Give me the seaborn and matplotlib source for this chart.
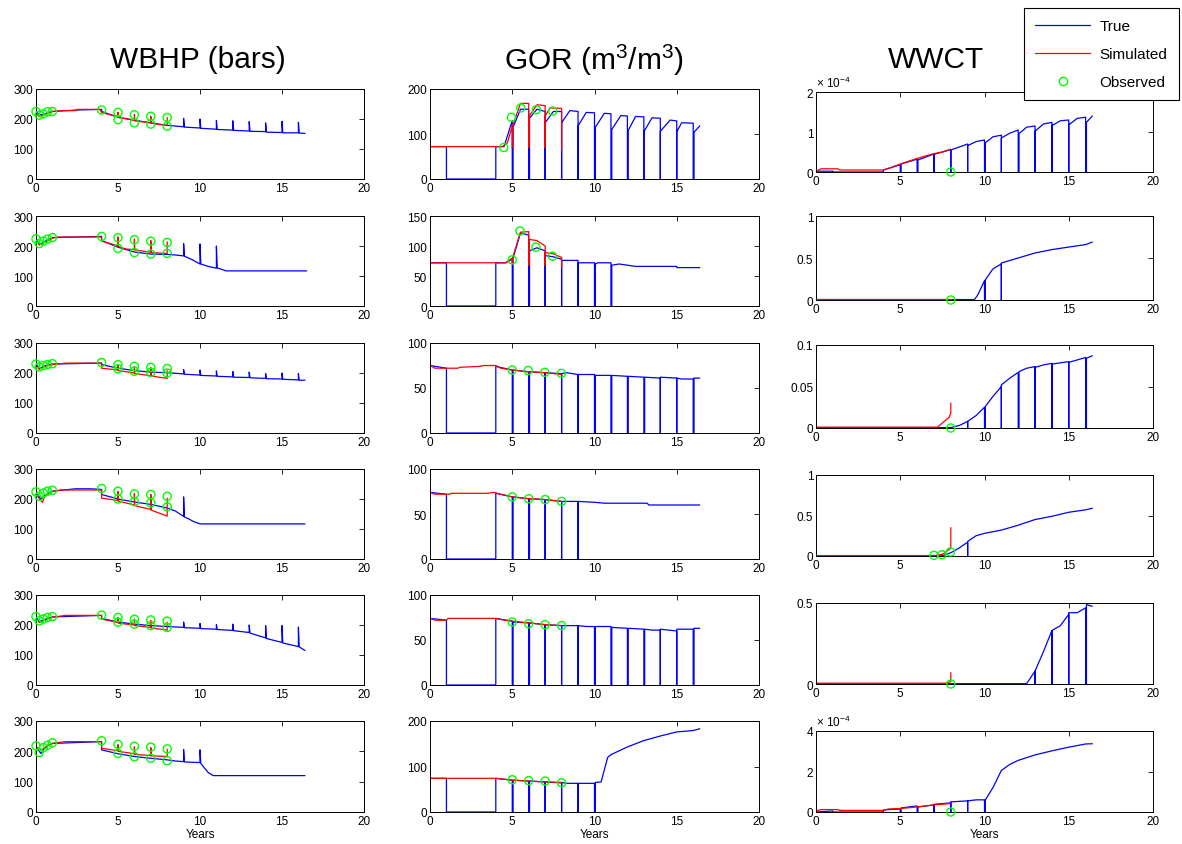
import matplotlib
matplotlib.use("Agg")
import matplotlib.pyplot as plt
from matplotlib.lines import Line2D
import seaborn as sns

# ---------------- data ----------------
x_ticks = [0, 5, 10, 15, 20]
x_ticklabels = ["0", "5", "10", "15", "20"]
titles = ["WBHP (bars)", "GOR (m$^3$/m$^3$)", "WWCT"]
legend_labels = ["True", "Simulated", "Observed"]

# ---- WBHP (bars) ----
wbhp_true_1 = [(0, 225), (0.2, 215), (0.45, 214), (0.7, 221), (1.0, 225), (2.5, 230), (4.0, 232), (4.0, 225),
               (5.0, 206), (6.0, 196), (7.0, 187), (8.0, 179), (9.0, 174), (9.0, 202), (9.05, 173), (10.0, 170),
               (10.0, 200), (10.05, 169), (11.0, 166), (11.0, 195), (11.05, 165), (12.0, 163), (12.0, 194),
               (12.05, 162), (13.0, 160), (13.0, 191), (13.05, 159), (14.0, 158), (14.0, 187), (14.05, 156),
               (15.0, 155), (15.0, 192), (15.05, 154), (16.0, 154), (16.0, 189), (16.05, 153), (16.4, 152)]
wbhp_sim_1 = [(0, 0), (0, 222), (0.2, 208), (0.45, 213), (0.7, 219), (1.0, 225), (1.5, 228), (2.5, 228), (2.5, 232),
              (3.9, 232), (4.0, 222), (5.0, 207), (5.0, 222), (5.02, 205), (6.0, 196), (6.0, 215), (6.02, 194),
              (7.0, 187), (7.0, 209), (7.02, 186), (8.0, 178), (8.0, 205)]
wbhp_obs_1 = [(0, 225), (0.2, 213), (0.45, 217), (0.7, 224), (1.0, 225), (4, 230), (5, 222), (5, 198), (6, 214),
              (6, 187), (7, 209), (7, 183), (8, 205), (8, 176)]

wbhp_true_2 = [(0, 225), (0.2, 205), (0.45, 212), (0.7, 220), (1.0, 228), (4.0, 232), (4.0, 218), (5.0, 196),
               (6.0, 180), (7.0, 173), (8.0, 172), (8.5, 170), (9.0, 167), (9.0, 208), (9.05, 166), (9.5, 155),
               (10.0, 140), (10.0, 207), (10.05, 140), (10.5, 132), (11.0, 126), (11.0, 200), (11.05, 127),
               (11.6, 117), (16.5, 117)]
wbhp_sim_2 = [(0, 0), (0, 222), (0.2, 203), (0.45, 210), (0.7, 218), (1.0, 226), (1.3, 230), (4.0, 230), (4.0, 217),
              (5.0, 200), (5.0, 230), (5.02, 198), (5.5, 190), (6.0, 188), (6.0, 223), (6.02, 187), (7.0, 179),
              (7.0, 218), (7.02, 178), (8.0, 175), (8.0, 214)]
wbhp_obs_2 = [(0, 224), (0.2, 208), (0.45, 216), (0.7, 223), (1.0, 228), (4, 232), (5, 228), (5, 192), (6, 221),
              (6, 178), (7, 216), (7, 173), (8, 212), (8, 175)]

wbhp_true_3 = [(0, 230), (0.2, 215), (0.45, 222), (0.7, 227), (1.0, 230), (4.0, 233), (4.0, 228), (5.0, 216),
               (6.0, 208), (7.0, 203), (8.0, 201), (9.0, 197), (9.0, 211), (9.05, 196), (10.0, 193), (10.0, 210),
               (10.05, 192), (11.0, 190), (11.0, 207), (11.05, 189), (12.0, 187), (12.0, 205), (12.05, 186),
               (13.0, 185), (13.0, 203), (13.05, 184), (14.0, 182), (14.0, 198), (14.05, 181), (15.0, 180),
               (15.0, 200), (15.05, 179), (16.0, 177), (16.0, 198), (16.05, 176), (16.4, 176)]
wbhp_sim_3 = [(0, 0), (0, 226), (0.2, 212), (0.45, 220), (0.7, 225), (1.0, 228), (1.8, 233), (4.0, 233), (4.0, 216),
              (5.0, 210), (5.0, 228), (5.02, 208), (6.0, 200), (6.0, 222), (6.02, 198), (7.0, 191), (7.0, 218),
              (7.02, 190), (8.0, 182), (8.0, 208)]
wbhp_obs_3 = [(0, 230), (0.2, 220), (0.45, 225), (0.7, 228), (1.0, 231), (4, 235), (5, 228), (5, 214), (6, 222),
              (6, 206), (7, 219), (7, 202), (8, 215), (8, 200)]

wbhp_true_4 = [(0, 220), (0.3, 200), (0.5, 210), (0.7, 218), (1.0, 226), (2.4, 234), (3.3, 234), (4.0, 232),
               (4.0, 215), (5.0, 200), (6.0, 190), (7.0, 182), (8.0, 170), (8.5, 160), (9.0, 142), (9.0, 207),
               (9.05, 140), (9.3, 134), (9.6, 125), (10.0, 117), (16.4, 117)]
wbhp_sim_4 = [(0, 0), (0, 215), (0.3, 195), (0.4, 189), (0.5, 205), (0.7, 215), (1.0, 225), (1.5, 230), (4.0, 230),
              (4.0, 203), (5.0, 195), (5.0, 225), (5.02, 193), (6.0, 180), (6.0, 218), (6.02, 178), (7.0, 165),
              (7.0, 215), (7.02, 163), (8.0, 143), (8.0, 203)]
wbhp_obs_4 = [(0, 224), (0.2, 209), (0.45, 220), (0.7, 226), (1.0, 229), (4, 235), (5, 226), (5, 200), (6, 217),
              (6, 191), (7, 215), (7, 187), (8, 209), (8, 174)]

wbhp_true_5 = [(0, 226), (0.2, 212), (0.45, 216), (0.7, 222), (1.0, 227), (4.0, 232), (4.0, 222), (5.0, 210),
               (6.0, 203), (7.0, 198), (8.0, 195), (9.0, 192), (9.0, 210), (9.05, 191), (10.0, 189), (10.0, 205),
               (10.05, 188), (11.0, 186), (11.0, 201), (11.05, 185), (12.0, 182), (12.0, 203), (12.05, 181),
               (13.0, 175), (13.0, 200), (13.05, 173), (14.0, 157), (14.0, 198), (14.05, 155), (15.0, 142),
               (15.0, 198), (15.05, 140), (16.0, 128), (16.0, 193), (16.05, 127), (16.4, 115)]
wbhp_sim_5 = [(0, 0), (0, 222), (0.2, 208), (0.45, 214), (0.7, 220), (1.0, 226), (1.8, 232), (4.0, 232), (4.0, 220),
              (5.0, 208), (5.0, 225), (5.02, 206), (6.0, 200), (6.0, 220), (6.02, 198), (7.0, 192), (7.0, 215),
              (7.02, 190), (8.0, 183), (8.0, 210)]
wbhp_obs_5 = [(0, 228), (0.2, 214), (0.45, 220), (0.7, 225), (1.0, 228), (4, 233), (5, 225), (5, 209), (6, 219),
              (6, 203), (7, 217), (7, 198), (8, 213), (8, 192)]

wbhp_true_6 = [(0, 215), (0.3, 193), (0.5, 208), (0.7, 218), (1.0, 226), (4.0, 232), (4.0, 205), (5.0, 192),
               (6.0, 183), (7.0, 177), (8.0, 172), (8.5, 168), (9.0, 166), (9.0, 206), (9.05, 165), (10.0, 163),
               (10.0, 205), (10.05, 160), (10.5, 130), (10.8, 120), (16.4, 120)]
wbhp_sim_6 = [(0, 0), (0, 215), (0.3, 205), (0.5, 210), (0.7, 220), (1.0, 226), (1.8, 232), (4.0, 232), (4.0, 210),
              (5.0, 202), (5.0, 222), (5.02, 200), (6.0, 192), (6.0, 215), (6.02, 190), (7.0, 186), (7.0, 212),
              (7.02, 185), (8.0, 183), (8.0, 207)]
wbhp_obs_6 = [(0, 218), (0.2, 196), (0.45, 212), (0.7, 220), (1.0, 228), (4, 235), (5, 223), (5, 193), (6, 217),
              (6, 182), (7, 214), (7, 177), (8, 208), (8, 169)]

# ---- GOR (m3/m3) ----
gor_true_1 = [(0, 72), (1.0, 72), (1.0, 0), (4.0, 0), (4.0, 72), (4.5, 72), (5.0, 130), (5.0, 0), (5.05, 0),
              (5.05, 115), (5.5, 155), (6.0, 155), (6.0, 0), (6.05, 0), (6.05, 135), (6.5, 155), (7.0, 150), (7.0, 0),
              (7.0, 125), (7.5, 150), (8.0, 150), (8.0, 0), (8.0, 125), (8.5, 152), (9.0, 150), (9.0, 0), (9.0, 118),
              (9.5, 148), (10.0, 147), (10.0, 0), (10.05, 0), (10.05, 115), (10.6, 146), (11.0, 145), (11.0, 0),
              (11.05, 0), (11.05, 110), (11.6, 141), (12.0, 140), (12.0, 0), (12.05, 0), (12.05, 108), (12.5, 139),
              (13.0, 138), (13.0, 0), (13.0, 105), (13.5, 136), (14.0, 135), (14.0, 0), (14.0, 106), (14.6, 131),
              (15.0, 129), (15.0, 0), (15.0, 105), (15.3, 125), (16.0, 124), (16.0, 0), (16.05, 0), (16.05, 104),
              (16.4, 118)]
gor_sim_1 = [(0, 0), (0, 72), (4.4, 72), (4.7, 80), (5.0, 118), (5.0, 70), (5.04, 70), (5.04, 120), (5.5, 168),
             (6.0, 168), (6.0, 70), (6.04, 70), (6.04, 140), (6.5, 165), (7.0, 163), (7.0, 70), (7.0, 140), (7.3, 158),
             (8.0, 157), (8.0, 65)]
gor_obs_1 = [(4.48, 70), (4.95, 137), (5.52, 158), (6.47, 154), (7.46, 151)]

gor_true_2 = [(0, 72), (1.0, 72), (1.0, 0), (4.0, 0), (4.0, 72), (4.6, 72), (5.0, 78), (5.0, 0), (5.05, 0),
              (5.05, 80), (5.5, 122), (6.0, 118), (6.0, 0), (6.05, 0), (6.05, 92), (6.5, 97), (7.0, 92), (7.0, 0),
              (7.0, 84), (7.5, 82), (8.0, 78), (8.0, 0), (8.0, 76), (9.0, 76), (9.0, 0), (9.0, 72), (10.0, 72),
              (10.0, 0), (10.05, 0), (10.05, 70), (10.2, 72), (11.0, 72), (11.0, 0), (11.05, 0), (11.05, 68),
              (11.5, 70), (12.0, 68), (12.5, 66), (15.0, 66), (15.0, 64), (16.4, 64)]
gor_sim_2 = [(0, 0), (0, 72), (4.6, 72), (5.0, 80), (5.0, 70), (5.04, 70), (5.04, 82), (5.5, 123), (6.0, 124),
             (6.0, 68), (6.04, 68), (6.04, 111), (6.5, 109), (7.0, 100), (7.0, 68), (7.0, 89), (7.5, 87), (8.0, 81),
             (8.0, 65)]
gor_obs_2 = [(5.0, 77), (5.47, 125), (6.44, 98), (7.45, 83)]

gor_true_3 = [(0, 75), (1.0, 72), (1.0, 0), (4.0, 0), (4.0, 74), (5.0, 70), (5.0, 0), (5.05, 0), (5.05, 70),
              (6.0, 68), (6.0, 0), (6.05, 0), (6.05, 68), (7.0, 67), (7.0, 0), (7.0, 67), (8.0, 66), (8.0, 0),
              (8.0, 66), (8.3, 67), (9.0, 65), (9.0, 0), (9.0, 65), (10.0, 65), (10.0, 0), (10.05, 0), (10.05, 64),
              (11.0, 64), (11.0, 0), (11.05, 0), (11.05, 64), (12.0, 63), (12.0, 0), (12.05, 0), (12.05, 63),
              (13.0, 62), (13.0, 0), (13.05, 0), (13.05, 62), (14.0, 61), (14.0, 0), (14.0, 62), (15.0, 61),
              (15.0, 0), (15.0, 61), (15.3, 60), (16.0, 60), (16.0, 0), (16.05, 0), (16.05, 61), (16.4, 61)]
gor_sim_3 = [(0, 0), (0, 75), (0.3, 72), (1.7, 72), (1.8, 73), (3.0, 74), (3.3, 75), (4.0, 75), (4.3, 72),
             (5.0, 70), (6.0, 68), (7.0, 67), (8.0, 65)]
gor_obs_3 = [(5.0, 70), (5.97, 69.5), (6.98, 67.4), (7.98, 66.3)]

gor_true_4 = [(0, 74), (1.0, 72), (1.0, 0), (4.0, 0), (4.0, 73), (5.0, 69), (5.0, 0), (5.05, 0), (5.05, 69),
              (6.0, 67), (6.0, 0), (6.05, 0), (6.05, 67), (7.0, 66), (7.0, 0), (7.0, 66), (8.0, 64), (8.0, 0),
              (8.0, 64), (9.0, 64), (9.0, 0), (9.0, 64), (10.0, 63), (10.6, 62), (13.2, 62), (13.3, 60),
              (16.4, 60)]
gor_sim_4 = [(0, 0), (0, 74), (0.3, 72), (1.2, 72), (1.3, 73), (3.5, 73), (3.9, 74), (4.3, 72), (5.0, 69),
             (6.0, 67), (7.0, 66), (8.0, 64)]
gor_obs_4 = [(5.0, 69), (6.0, 67), (7.0, 66), (8.0, 64)]

gor_true_5 = [(0, 74), (1.0, 72), (1.0, 0), (4.0, 0), (4.0, 74), (5.0, 71), (5.0, 0), (5.05, 0), (5.05, 70),
              (6.0, 69), (6.0, 0), (6.05, 0), (6.05, 69), (7.0, 67), (7.0, 0), (7.0, 67), (8.0, 66), (8.0, 0),
              (8.0, 66), (9.0, 66), (9.0, 0), (9.0, 66), (9.5, 65), (10.0, 65), (10.0, 0), (10.05, 0), (10.05, 65),
              (11.0, 65), (11.0, 0), (11.05, 0), (11.05, 64), (12.0, 63), (12.0, 0), (12.05, 0), (12.05, 63),
              (13.0, 62), (13.0, 0), (13.05, 0), (13.05, 62), (13.5, 61), (14.0, 61), (14.0, 0), (14.0, 62),
              (14.5, 61), (15.0, 60), (15.0, 0), (15.0, 62), (16.0, 62), (16.0, 0), (16.05, 0), (16.05, 63),
              (16.4, 63)]
gor_sim_5 = [(0, 0), (0, 74), (0.3, 72), (1.0, 72), (1.1, 74), (4.0, 74), (4.5, 72), (5.0, 71), (6.0, 69),
             (7.0, 67), (8.0, 66)]
gor_obs_5 = [(5.0, 70), (6.0, 68), (7.0, 67), (8.0, 66)]

gor_true_6 = [(0, 74), (1.0, 74), (1.0, 0), (4.0, 0), (4.0, 74), (5.0, 70), (5.0, 0), (5.05, 0), (5.05, 70),
              (6.0, 68), (6.0, 0), (6.05, 0), (6.05, 68), (7.0, 66), (7.0, 0), (7.0, 66), (8.0, 64), (8.0, 0),
              (8.0, 65), (8.3, 63), (9.0, 63), (9.0, 0), (9.0, 63), (10.0, 63), (10.0, 0), (10.05, 0), (10.05, 65),
              (10.4, 66), (10.8, 120), (11.0, 126), (12.0, 143), (13.0, 157), (14.0, 167), (15.0, 176), (16.0, 179),
              (16.4, 183)]
gor_sim_6 = [(0, 0), (0, 74), (4.0, 74), (4.5, 72), (5.0, 70), (6.0, 68), (7.0, 66), (8.0, 65)]
gor_obs_6 = [(5.0, 71), (6.0, 69), (7.0, 68), (8.0, 64)]

# ---- WWCT ----  (rows 1 and 6 in units of 1e-4)
wwct_true_1 = [(0, 0.02), (1.0, 0.02), (1.0, 0), (4.0, 0), (4.0, 0.05), (5.0, 0.18), (5.0, 0), (5.05, 0),
               (5.05, 0.2), (6.0, 0.32), (6.0, 0), (6.05, 0), (6.05, 0.3), (7.0, 0.45), (7.0, 0), (7.0, 0.44),
               (8.0, 0.56), (8.0, 0), (8.0, 0.55), (9.0, 0.7), (9.0, 0), (9.0, 0.66), (9.5, 0.76), (10.0, 0.8),
               (10.0, 0), (10.05, 0), (10.05, 0.73), (10.5, 0.88), (11.0, 0.92), (11.0, 0), (11.0, 0.85),
               (11.5, 0.97), (12.0, 1.05), (12.0, 0), (12.05, 0), (12.05, 0.96), (12.5, 1.12), (13.0, 1.15),
               (13.0, 0), (13.0, 1.02), (13.5, 1.2), (14.0, 1.24), (14.0, 0), (14.0, 1.16), (14.5, 1.28),
               (15.0, 1.3), (15.0, 0), (15.0, 1.18), (15.5, 1.34), (16.0, 1.37), (16.0, 0), (16.05, 0),
               (16.05, 1.24), (16.4, 1.4)]
wwct_sim_1 = [(0, 0.02), (0.3, 0.08), (1.3, 0.08), (1.4, 0.05), (4.0, 0.05), (4.5, 0.12), (5.0, 0.2), (5.5, 0.27),
              (6.0, 0.34), (6.5, 0.4), (7.0, 0.46), (7.5, 0.5), (8.0, 0.57)]
wwct_obs_1 = [(8.0, 0.0)]

wwct_true_2 = [(0, 0.005), (9.4, 0.005), (9.6, 0.06), (10.0, 0.23), (10.0, 0), (10.05, 0), (10.05, 0.24),
               (10.5, 0.37), (11.0, 0.43), (11.0, 0), (11.0, 0.44), (12.0, 0.5), (13.0, 0.56), (14.0, 0.6),
               (15.0, 0.63), (16.0, 0.66), (16.4, 0.69)]
wwct_sim_2 = [(0, 0.01), (8.0, 0.01)]
wwct_obs_2 = [(8.0, 0.0)]

wwct_true_3 = [(0, 0.0005), (8.0, 0.0005), (8.5, 0.003), (9.0, 0.008), (9.0, 0), (9.0, 0.008), (9.5, 0.015),
               (10.0, 0.025), (10.0, 0), (10.05, 0), (10.05, 0.026), (10.5, 0.038), (11.0, 0.05), (11.0, 0),
               (11.0, 0.052), (11.5, 0.06), (12.0, 0.067), (12.0, 0), (12.05, 0), (12.05, 0.068), (12.5, 0.072),
               (13.0, 0.074), (13.0, 0), (13.0, 0.073), (13.5, 0.076), (14.0, 0.078), (14.0, 0), (14.0, 0.077),
               (15.0, 0.08), (15.0, 0), (15.0, 0.079), (15.5, 0.082), (16.0, 0.085), (16.0, 0), (16.05, 0),
               (16.05, 0.084), (16.4, 0.087)]
wwct_sim_3 = [(0, 0.001), (7.2, 0.001), (7.5, 0.006), (7.9, 0.013), (8.0, 0.018), (8.0, 0.03)]
wwct_obs_3 = [(8.0, 0.0)]

wwct_true_4 = [(0, 0.003), (7.5, 0.003), (8.0, 0.04), (8.5, 0.1), (9.0, 0.17), (9.0, 0), (9.0, 0.18),
               (9.5, 0.25), (10.0, 0.28), (11.0, 0.32), (12.0, 0.38), (13.0, 0.45), (14.0, 0.49), (15.0, 0.54),
               (16.0, 0.57), (16.4, 0.59)]
wwct_sim_4 = [(0, 0.005), (7.0, 0.005), (7.5, 0.02), (7.9, 0.08), (8.0, 0.1), (8.0, 0.35)]
wwct_obs_4 = [(7.0, 0.008), (7.47, 0.016), (7.98, 0.05)]

wwct_true_5 = [(0, 0.002), (12.5, 0.002), (13.0, 0.08), (13.0, 0), (13.0, 0.08), (13.5, 0.2), (14.0, 0.33),
               (14.0, 0), (14.0, 0.33), (14.5, 0.36), (15.0, 0.43), (15.0, 0), (15.0, 0.44), (15.5, 0.44),
               (16.0, 0.47), (16.0, 0), (16.05, 0), (16.05, 0.49), (16.4, 0.48)]
wwct_sim_5 = [(0, 0.005), (7.7, 0.005), (8.0, 0.015), (8.0, 0.07)]
wwct_obs_5 = [(8.0, 0.0)]

wwct_true_6 = [(0, 0), (1.0, 0.05), (1.0, 0), (4.0, 0), (4.0, 0.1), (5.0, 0.15), (5.0, 0), (5.05, 0), (5.05, 0.2),
               (6.0, 0.3), (6.0, 0), (6.05, 0), (6.05, 0.25), (7.0, 0.35), (7.0, 0), (7.0, 0.38), (8.0, 0.45),
               (8.0, 0), (8.0, 0.5), (9.0, 0.55), (9.0, 0), (9.0, 0.55), (9.5, 0.6), (10.0, 0.6), (10.0, 0),
               (10.05, 0), (10.05, 0.6), (10.5, 1.2), (11.0, 2.05), (11.5, 2.35), (12.0, 2.55), (13.0, 2.82),
               (14.0, 3.02), (15.0, 3.2), (16.0, 3.36), (16.4, 3.37)]
wwct_sim_6 = [(0, 0.05), (0.3, 0.12), (1.3, 0.12), (1.4, 0.08), (4.0, 0.08), (4.3, 0.15), (5.0, 0.17), (6.0, 0.25),
              (7.0, 0.35), (8.0, 0.42)]
wwct_obs_6 = [(8.0, 0.0)]

# y-axis limits / ticks per panel
wbhp_yticks = [0, 100, 200, 300]
wbhp_ylabels = ["0", "100", "200", "300"]
gor_yticks = [[0, 100, 200], [0, 50, 100, 150], [0, 50, 100], [0, 50, 100], [0, 50, 100], [0, 100, 200]]
gor_ylabels = [["0", "100", "200"], ["0", "50", "100", "150"], ["0", "50", "100"], ["0", "50", "100"],
               ["0", "50", "100"], ["0", "100", "200"]]
wwct_yticks = [[0, 1, 2], [0, 0.5, 1], [0, 0.05, 0.1], [0, 0.5, 1], [0, 0.5], [0, 2, 4]]
wwct_ylabels = [["0", "1", "2"], ["0", "0.5", "1"], ["0", "0.05", "0.1"], ["0", "0.5", "1"], ["0", "0.5"],
                ["0", "2", "4"]]
wwct_scale_rows = [0, 5]
scale_label = "\u00d7 10$^{-4}$"

wbhp_true = [wbhp_true_1, wbhp_true_2, wbhp_true_3, wbhp_true_4, wbhp_true_5, wbhp_true_6]
wbhp_sim = [wbhp_sim_1, wbhp_sim_2, wbhp_sim_3, wbhp_sim_4, wbhp_sim_5, wbhp_sim_6]
wbhp_obs = [wbhp_obs_1, wbhp_obs_2, wbhp_obs_3, wbhp_obs_4, wbhp_obs_5, wbhp_obs_6]
gor_true = [gor_true_1, gor_true_2, gor_true_3, gor_true_4, gor_true_5, gor_true_6]
gor_sim = [gor_sim_1, gor_sim_2, gor_sim_3, gor_sim_4, gor_sim_5, gor_sim_6]
gor_obs = [gor_obs_1, gor_obs_2, gor_obs_3, gor_obs_4, gor_obs_5, gor_obs_6]
wwct_true = [wwct_true_1, wwct_true_2, wwct_true_3, wwct_true_4, wwct_true_5, wwct_true_6]
wwct_sim = [wwct_sim_1, wwct_sim_2, wwct_sim_3, wwct_sim_4, wwct_sim_5, wwct_sim_6]
wwct_obs = [wwct_obs_1, wwct_obs_2, wwct_obs_3, wwct_obs_4, wwct_obs_5, wwct_obs_6]

# ---------------- style ----------------
sns.set_style("white")
plt.rcParams["font.family"] = ["Liberation Sans", "DejaVu Sans"]
plt.rcParams["mathtext.fontset"] = "custom"
plt.rcParams["mathtext.rm"] = "Liberation Sans"
plt.rcParams["mathtext.it"] = "Liberation Sans:italic"
plt.rcParams["mathtext.bf"] = "Liberation Sans:bold"
for key in ["text.color", "axes.labelcolor", "xtick.color", "ytick.color", "axes.edgecolor"]:
    plt.rcParams[key] = "black"

BLUE = "#0000ff"
RED = "#ff0000"
GREEN = "#00ff00"

W, H = 1182, 845
fig = plt.figure(figsize=(W / 100, H / 100), dpi=100)
fig.patch.set_facecolor("white")

# layout in pixels (left, right) and (top, bottom)
col_lr = [(36, 364), (430, 759), (816, 1153)]
rows_tb_12 = [(90, 180), (217, 307), (344, 434), (470, 560), (596, 686), (722, 813)]
rows_tb_3 = [(93, 173), (217, 301), (346, 429), (476, 557), (604, 685), (732, 813)]


def make_ax(col, row):
    l, r = col_lr[col]
    t, b = (rows_tb_3 if col == 2 else rows_tb_12)[row]
    return fig.add_axes([l / W, 1 - b / H, (r - l) / W, (b - t) / H])


def draw(ax, true, sim, obs):
    tt, ty = zip(*true)
    sns.lineplot(x=list(tt), y=list(ty), sort=False, estimator=None, color=BLUE, linewidth=0.9, ax=ax,
                 legend=False)
    st, sy = zip(*sim)
    sns.lineplot(x=list(st), y=list(sy), sort=False, estimator=None, color=RED, linewidth=0.9, ax=ax,
                 legend=False)
    ot, oy = zip(*obs)
    sns.scatterplot(x=list(ot), y=list(oy), marker="o", s=34, facecolor="none", edgecolor=GREEN,
                    linewidth=1.0, ax=ax, legend=False, zorder=5, clip_on=False)


def style(ax, yticks, ylabels, last):
    ax.set_xlim(0, 20)
    ax.set_ylim(yticks[0], yticks[-1])
    ax.set_xticks(x_ticks, x_ticklabels)
    ax.set_yticks(yticks, ylabels)
    ax.tick_params(direction="in", top=True, right=True, length=3.5, width=0.6, labelsize=8.5, pad=2,
                   colors="black")
    for s in ax.spines.values():
        s.set_visible(True)
        s.set_color("black")
        s.set_linewidth(0.7)
    ax.set_xlabel("Years" if last else "", fontsize=8.5, labelpad=1)
    ax.set_ylabel("")


for i in range(6):
    ax = make_ax(0, i)
    draw(ax, wbhp_true[i], wbhp_sim[i], wbhp_obs[i])
    style(ax, wbhp_yticks, wbhp_ylabels, i == 5)

    ax = make_ax(1, i)
    draw(ax, gor_true[i], gor_sim[i], gor_obs[i])
    style(ax, gor_yticks[i], gor_ylabels[i], i == 5)

    ax = make_ax(2, i)
    draw(ax, wwct_true[i], wwct_sim[i], wwct_obs[i])
    style(ax, wwct_yticks[i], wwct_ylabels[i], i == 5)
    if i in wwct_scale_rows:
        ax.text(0.0, 1.03, scale_label, transform=ax.transAxes, ha="left", va="bottom", fontsize=8.5)

# column titles
fig.text(198 / W, 1 - 60 / H, titles[0], ha="center", va="center", fontsize=21.5)
fig.text(594 / W, 1 - 60 / H, titles[1], ha="center", va="center", fontsize=21.5)
fig.text(936 / W, 1 - 60 / H, titles[2], ha="center", va="center", fontsize=21.5)

# legend
handles = [Line2D([], [], color=BLUE, lw=0.9),
           Line2D([], [], color=RED, lw=0.9),
           Line2D([], [], ls="none", marker="o", mfc="none", mec=GREEN, ms=6, mew=1.0)]
leg = fig.legend(handles, legend_labels, loc="upper right", bbox_to_anchor=(1179 / W, 1 - 9 / H),
                 frameon=True, fancybox=False, edgecolor="black", framealpha=1, fontsize=11,
                 handlelength=3.6, labelspacing=0.9, borderpad=0.75, handletextpad=0.6, borderaxespad=0)
leg.get_frame().set_linewidth(0.8)

fig.savefig("out.png", dpi=100, facecolor="white")
